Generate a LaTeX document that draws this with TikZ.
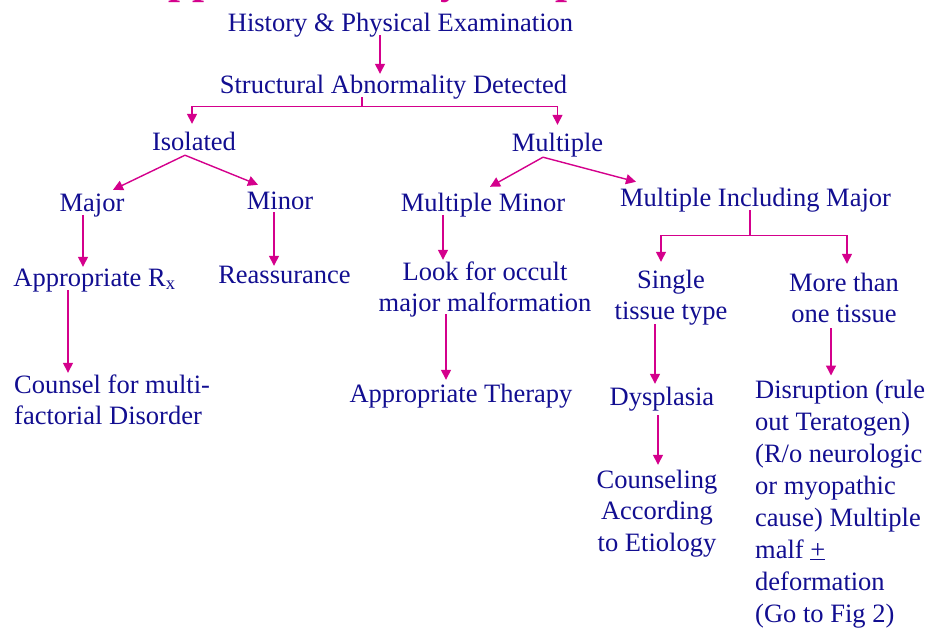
\documentclass[tikz,border=0pt]{standalone}
\usepackage{fontspec}
\setmainfont{Liberation Serif}
\usetikzlibrary{arrows.meta}
\definecolor{navy}{RGB}{18,14,145}
\definecolor{mag}{RGB}{212,0,140}
\newcommand{\topstrt}{\rule{0pt}{19pt}}
\newcommand{\botstrt}{\rule[-6pt]{0pt}{6pt}}
\begin{document}
\begin{tikzpicture}[x=1pt,y=-1pt,
  txt/.style={inner sep=0pt, text=navy, font=\fontsize{26.5}{31.9}\selectfont, text height=19pt, text depth=6pt, anchor=base},
  mtxt/.style={inner sep=0pt, text=navy, font=\fontsize{26.5}{31.9}\selectfont, anchor=base},
  ln/.style={draw=mag, line width=1.4pt},
  arr/.style={ln, -{Triangle[width=10pt,length=10pt]}}]
\useasboundingbox (0,0) rectangle (930,630);
\clip (0,0) rectangle (930,630);
\fill[white] (0,0) rectangle (930,630);
% partially visible title
\node[anchor=base west, inner sep=0pt, text=mag, font=\fontsize{43}{50}\selectfont\bfseries] (title) at (137,-7) {Approach to a Dysmorphic Newborn};
% nodes
\node[txt] (hist) at (400.5,31) {History \& Physical Examination};
\node[txt] (struct) at (393.5,93) {Structural Abnormality Detected};
\node[txt] (iso) at (194,150) {Isolated};
\node[txt] (mult) at (557.5,151) {Multiple};
\node[txt] (major) at (92,211) {Major};
\node[txt] (minor) at (280,209) {Minor};
\node[txt] (mmin) at (483,211) {Multiple Minor};
\node[txt] (mim) at (755.5,206) {Multiple Including Major};
\node[txt] (rx) at (94.5,286) {Appropriate R\textsubscript{x}};
\node[txt] (reass) at (284.5,283) {Reassurance};
\node[mtxt, align=center] (look) at (485,311.9) {\topstrt Look for occult\\major malformation\botstrt};
\node[mtxt, align=center] (single) at (671,319.9) {\topstrt Single\\tissue type\botstrt};
\node[mtxt, align=center] (more) at (844,322.9) {\topstrt More than\\one tissue\botstrt};
\node[mtxt, align=left, anchor=base west] (counsel) at (14,424.9) {\topstrt Counsel for multi-\\factorial Disorder\botstrt};
\node[txt] (therapy) at (461,402) {Appropriate Therapy};
\node[txt] (dysp) at (662,405) {Dysplasia};
\node[mtxt, align=center] (couns) at (657,551.8) {\topstrt Counseling\\According\\to Etiology\botstrt};
\node[mtxt, align=left, anchor=base west] (disr) at (755,622) {\topstrt Disruption (rule\\out Teratogen)\\(R/o neurologic\\or myopathic\\cause) Multiple\\malf \underline{+}\\deformation\\(Go to Fig 2)\botstrt};
% connectors
\draw[arr] ([xshift=-20.5pt,yshift=2pt]hist.south) -- ([xshift=-13.5pt]struct.north);
\draw[ln] ([xshift=-31.5pt,yshift=2pt]struct.south) -- ([xshift=-31.5pt,yshift=-7pt]struct.south) coordinate (f1);
\draw[arr] (f1) -| ([xshift=-2pt,yshift=7pt]iso.north);
\draw[arr] (f1) -| ([yshift=7pt]mult.north);
\draw[arr] ([xshift=-9pt,yshift=1pt]iso.south) -- ([xshift=21pt,yshift=2pt]major.north);
\draw[arr] ([xshift=-9pt,yshift=1pt]iso.south) -- ([xshift=-22pt,yshift=5pt]minor.north);
\draw[arr] ([xshift=-14.5pt]mult.south) -- ([xshift=7pt,yshift=5pt]mmin.north);
\draw[arr] ([xshift=-14.5pt]mult.south) -- ([xshift=-119.5pt,yshift=5pt]mim.north);
\draw[arr] ([xshift=-9pt,yshift=2pt]major.south) -- ([xshift=-11.5pt]rx.north);
\draw[arr] ([xshift=-6pt,yshift=3pt]minor.south) -- ([xshift=-10.5pt,yshift=-2pt]reass.north);
\draw[arr] ([xshift=-26.5pt,yshift=2pt]rx.south) -- ([xshift=54pt,yshift=1pt]counsel.north west);
\draw[arr] ([xshift=-40pt,yshift=2pt]mmin.south) -- ([xshift=-42pt,yshift=1pt]look.north);
\draw[arr] ([xshift=-39pt,yshift=4pt]look.south) -- ([xshift=-15pt,yshift=3pt]therapy.north);
\draw[ln] ([xshift=-5.5pt,yshift=2pt]mim.south) -- ([xshift=-5.5pt,yshift=-23pt]mim.south) coordinate (f2);
\draw[arr] (f2) -| ([xshift=-10pt,yshift=7pt]single.north);
\draw[arr] (f2) -| ([xshift=3pt,yshift=8pt]more.north);
\draw[arr] ([xshift=-16pt,yshift=2pt]single.south) -- ([xshift=-7pt,yshift=2pt]dysp.north);
\draw[arr] ([xshift=-4pt,yshift=-4pt]dysp.south) -- ([xshift=1pt,yshift=4pt]couns.north);
\draw[arr] ([xshift=-13pt,yshift=1pt]more.south) -- ([xshift=76pt,yshift=4pt]disr.north west);
\end{tikzpicture}
\end{document}
